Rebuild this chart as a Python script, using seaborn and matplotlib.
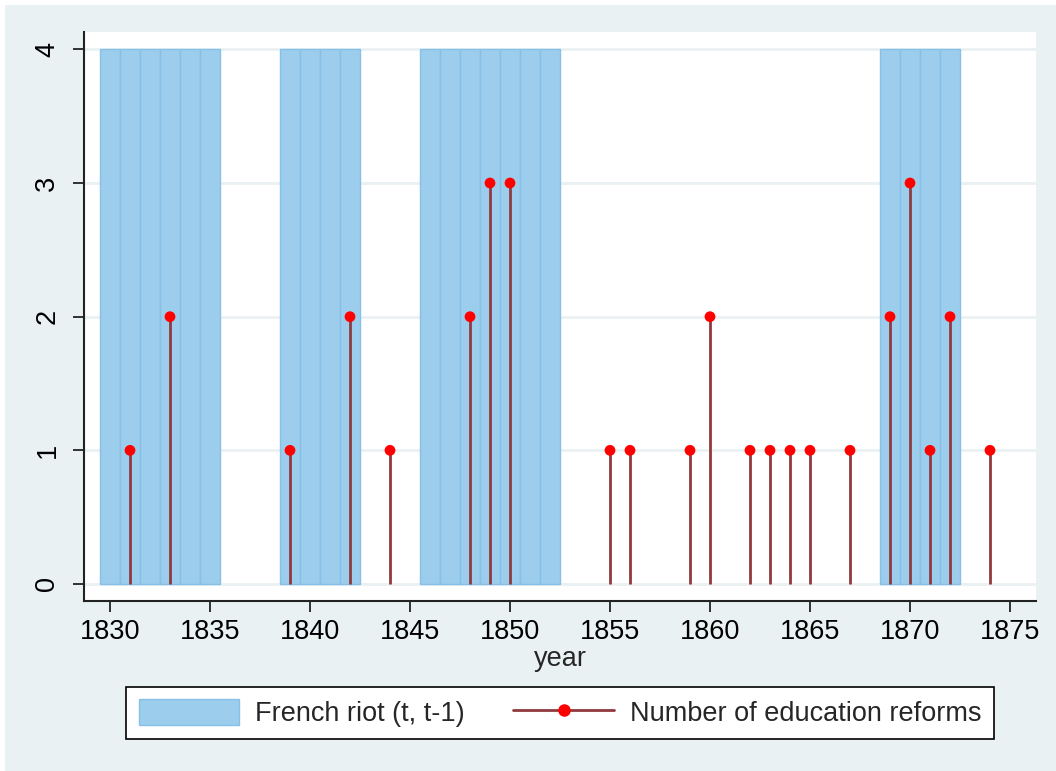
import matplotlib
matplotlib.use("Agg")
import matplotlib.pyplot as plt
import seaborn as sns
import pandas as pd
from matplotlib.patches import Patch, Rectangle
from matplotlib.lines import Line2D
from matplotlib.legend_handler import HandlerLine2D

# French riot years (t, t-1), drawn as full-height bars
riot_years = [1830, 1831, 1832, 1833, 1834, 1835,
              1839, 1840, 1841, 1842,
              1846, 1847, 1848, 1849, 1850, 1851, 1852,
              1869, 1870, 1871, 1872]
riot_height = [4] * len(riot_years)

# Number of education reforms per year
reform_years = [1831, 1833, 1839, 1842, 1844, 1848, 1849, 1850, 1855, 1856,
                1859, 1860, 1862, 1863, 1864, 1865, 1867, 1869, 1870, 1871,
                1872, 1874]
reform_counts = [1, 2, 1, 2, 1, 2, 3, 3, 1, 1,
                 1, 2, 1, 1, 1, 1, 1, 2, 3, 1,
                 2, 1]

x_ticks = [1830, 1835, 1840, 1845, 1850, 1855, 1860, 1865, 1870, 1875]
y_ticks = [0, 1, 2, 3, 4]

BG = "#eaf1f3"
BAR_FILL = "#9dcdec"
BAR_EDGE = "#86c0e8"
STEM = "#903a3f"
DOT = "#ff0000"
FS = 19.5

sns.set_style("white")
plt.rcParams["font.family"] = ["Liberation Sans", "DejaVu Sans"]


class StemHandler(HandlerLine2D):
    # put the marker at the right end of the legend line
    def get_xdata(self, legend, xdescent, ydescent, width, height, fontsize):
        xdata, _ = super().get_xdata(legend, xdescent, ydescent, width, height, fontsize)
        return xdata, [xdata[-1]]


fig = plt.figure(figsize=(10.56, 7.71), dpi=100, facecolor="white")
fig.patches.append(Rectangle((5 / 1056, 0), 1, 1 - 5 / 771, transform=fig.transFigure,
                             facecolor=BG, edgecolor="none", zorder=-10))
ax = fig.add_axes([84 / 1056, 1 - 600.7 / 771, (1036 - 84) / 1056, (600.7 - 32) / 771])
ax.set_facecolor("white")

riots = pd.DataFrame({"year": riot_years, "riot": riot_height})
sns.barplot(data=riots, x="year", y="riot", native_scale=True, width=1,
            color=BAR_FILL, saturation=1, edgecolor=BAR_EDGE, linewidth=1,
            ax=ax, zorder=2)

ax.vlines(reform_years, 0, reform_counts, color=STEM, linewidth=2, zorder=3)
sns.scatterplot(x=reform_years, y=reform_counts, color=DOT, s=60,
                edgecolor="none", ax=ax, zorder=4)

ax.set_xlim(1828.7, 1876.3)
ax.set_ylim(-0.125, 4.13)
ax.set_xticks(x_ticks)
ax.set_yticks(y_ticks)
ax.set_xticklabels([str(t) for t in x_ticks])
ax.set_yticklabels([str(t) for t in y_ticks])

for y in y_ticks:
    ax.axhline(y, color=BG, linewidth=2, zorder=1)

for side in ["top", "right"]:
    ax.spines[side].set_visible(False)
for side in ["left", "bottom"]:
    ax.spines[side].set_color("#222222")
    ax.spines[side].set_linewidth(1.5)

ax.tick_params(axis="both", direction="out", length=8, width=1.3,
               color="#222222", labelsize=FS, labelcolor="black",
               bottom=True, left=True)
ax.tick_params(axis="x", pad=5)
ax.tick_params(axis="y", labelrotation=90, pad=9)
for lbl in ax.get_yticklabels():
    lbl.set_verticalalignment("center")

ax.set_xlabel("year", fontsize=FS, labelpad=1)
ax.set_ylabel("")

handles = [
    Patch(facecolor=BAR_FILL, edgecolor=BAR_EDGE, linewidth=1),
    Line2D([0], [0], color=STEM, linewidth=2, marker="o", markersize=8,
           markerfacecolor=DOT, markeredgecolor=DOT),
]
labels = ["French riot (t, t-1)", "Number of education reforms"]
leg = fig.legend(handles, labels, ncol=2, loc="center",
                 bbox_to_anchor=(560 / 1056, 1 - 713 / 771),
                 fontsize=FS, frameon=True, fancybox=False, shadow=False,
                 handlelength=3.7, handleheight=1.1, handletextpad=0.6,
                 columnspacing=1.8, borderpad=0.45, numpoints=1,
                 handler_map={Line2D: StemHandler()})
leg.get_frame().set_edgecolor("black")
leg.get_frame().set_linewidth(1.2)
leg.get_frame().set_facecolor("white")
leg.get_frame().set_alpha(1)

fig.savefig("out.png", dpi=100, facecolor=fig.get_facecolor())
